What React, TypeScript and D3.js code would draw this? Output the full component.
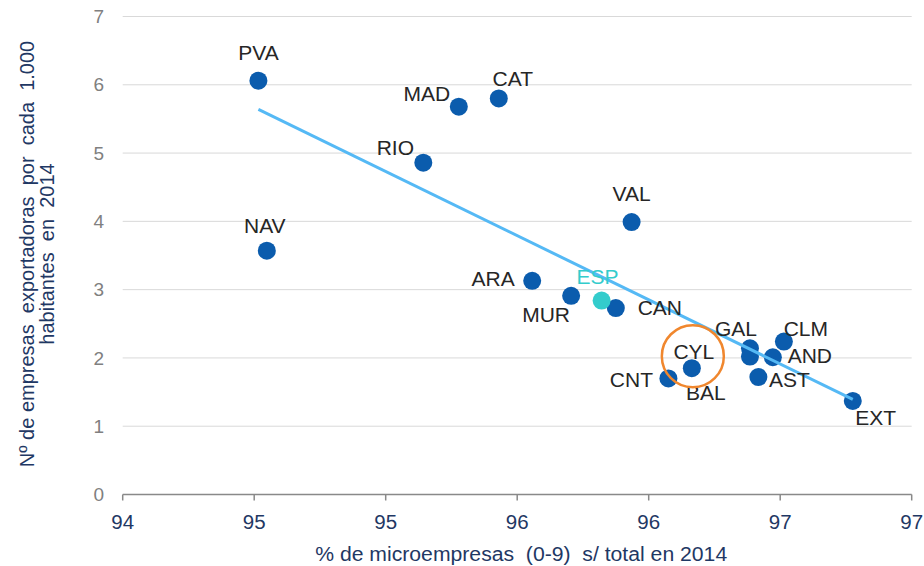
import React from 'react';
import * as d3 from 'd3';

// regions: % microempresas (x) vs exportadoras por 1.000 hab (y)
const codes = ['PVA', 'MAD', 'CAT', 'RIO', 'NAV', 'VAL', 'ARA', 'MUR', 'CAN', 'GAL', 'BAL', 'CLM', 'AND', 'AST', 'EXT', 'CYL', 'CNT'];
const microPct = [94.516, 95.278, 95.43, 95.143, 94.548, 95.935, 95.557, 95.705, 95.875, 96.385, 96.385, 96.514, 96.472, 96.417, 96.776, 96.164, 96.075];
const exporters = [6.06, 5.68, 5.8, 4.86, 3.57, 3.99, 3.13, 2.91, 2.73, 2.14, 2.02, 2.24, 2.01, 1.72, 1.37, 1.85, 1.7];

const espCode = 'ESP';
const espMicro = 95.821;
const espExporters = 2.84;

const xTicks = [94, 94.5, 95, 95.5, 96, 96.5, 97];
const xTickLabels = ['94', '95', '95', '96', '96', '97', '97'];
const yTicks = [0, 1, 2, 3, 4, 5, 6, 7];

const xTitle = '% de microempresas  (0-9)  s/ total en 2014';
const yTitle = ['Nº de empresas  exportadoras  por  cada  1.000', 'habitantes  en  2014'];

// label placement relative to its point (text centre)
const labelOffset: Record<string, [number, number]> = {
  PVA: [0, -28], MAD: [-32, -13], CAT: [14, -20], RIO: [-28, -15], NAV: [-2, -25],
  VAL: [0, -28], ARA: [-39, -2], ESP: [-4, -24], MUR: [-25, 19], CAN: [44, 0],
  GAL: [-14, -20], CLM: [22, -13], AND: [37, -2], AST: [31, 3], EXT: [23, 17],
  CYL: [2, -17], CNT: [-37, 1], BAL: [-44, 36],
};

const W = 924;
const H = 566;
const font = '"Liberation Sans", Arial, sans-serif';
const navy = '#1F3864';

export default function App() {
  const x = d3.scaleLinear().domain([94, 97]).range([122.7, 911.7]);
  const y = d3.scaleLinear().domain([0, 7]).range([494.5, 16.5]);

  const pts = codes.map((c, i) => ({ code: c, x: microPct[i], y: exporters[i] }));

  // least squares trendline over the regions
  const mx = d3.mean(microPct)!;
  const my = d3.mean(exporters)!;
  const slope = d3.sum(microPct, (v, i) => (v - mx) * (exporters[i] - my)) / d3.sum(microPct, (v) => (v - mx) ** 2);
  const [x0, x1] = d3.extent(microPct) as [number, number];
  const trend = d3.line<number>().x((v) => x(v)).y((v) => y(my + slope * (v - mx)));

  const cyl = pts.find((p) => p.code === 'CYL')!;

  return (
    <svg width={W} height={H} style={{ position: 'absolute', left: 0, top: 0, background: '#fff' }} fontFamily={font}>
      {/* grid */}
      {yTicks.filter((t) => t > 0).map((t) => (
        <line key={t} x1={x(94)} x2={x(97)} y1={y(t)} y2={y(t)} stroke="#D9D9D9" strokeWidth={1} />
      ))}
      {yTicks.map((t) => (
        <text key={t} x={104} y={y(t)} dy="0.35em" textAnchor="end" fontSize={19} fill="#808080">{t}</text>
      ))}
      {/* x axis */}
      <line x1={x(94)} x2={x(97)} y1={y(0)} y2={y(0)} stroke="#898989" strokeWidth={1.5} />
      {xTicks.map((t, i) => (
        <g key={t} transform={`translate(${x(t)},${y(0)})`}>
          <line y1={0} y2={6} stroke="#898989" strokeWidth={1.5} />
          <text y={27} dy="0.35em" textAnchor="middle" fontSize={20.5} fill={navy}>{xTickLabels[i]}</text>
        </g>
      ))}
      <text x={(x(94) + x(97)) / 2 + 4} y={554} dy="0.35em" textAnchor="middle" fontSize={19.5} fill={navy}
        textLength={412} lengthAdjust="spacingAndGlyphs" style={{ whiteSpace: 'pre' }}>{xTitle}</text>
      <g transform="translate(37,254) rotate(-90)">
        {yTitle.map((line, i) => (
          <text key={i} x={0} y={(i - 0.5) * 20} dy="0.35em" textAnchor="middle" fontSize={20} fill={navy}
            style={{ whiteSpace: 'pre' }}>{line}</text>
        ))}
      </g>

      {/* points */}
      {pts.map((p) => (
        <circle key={p.code} cx={x(p.x)} cy={y(p.y)} r={9} fill="#0B5CAD" />
      ))}
      <circle cx={x(espMicro)} cy={y(espExporters)} r={9} fill="#33CCCC" />

      {/* trendline */}
      <path d={trend([x0, x1]) ?? ''} fill="none" stroke="#55B9F5" strokeWidth={3} />

      {/* labels */}
      {pts.map((p) => (
        <text key={p.code} x={x(p.x) + labelOffset[p.code][0]} y={y(p.y) + labelOffset[p.code][1]} dy="0.35em"
          textAnchor="middle" fontSize={21} fill="#262626">{p.code}</text>
      ))}
      <text x={x(espMicro) + labelOffset[espCode][0]} y={y(espExporters) + labelOffset[espCode][1]} dy="0.35em"
        textAnchor="middle" fontSize={21} fill="#33CCCC">{espCode}</text>

      {/* highlight */}
      <circle cx={x(cyl.x) + 1} cy={y(cyl.y) - 12} r={31} fill="none" stroke="#F0872E" strokeWidth={2.5} />
    </svg>
  );
}
